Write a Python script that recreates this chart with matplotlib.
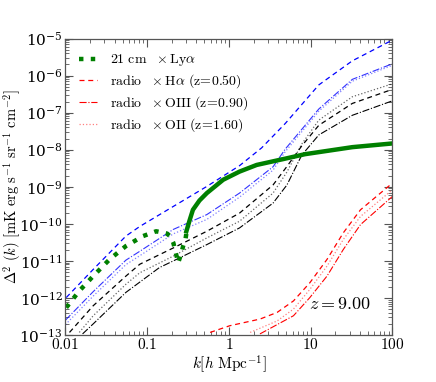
import numpy as np
import matplotlib
matplotlib.use("Agg")
import matplotlib.pyplot as plt
from matplotlib.ticker import LogLocator, FixedLocator, FixedFormatter, NullFormatter

plt.rcParams['font.family'] = 'serif'
plt.rcParams['font.serif'] = ['DejaVu Serif']
plt.rcParams['mathtext.fontset'] = 'cm'

# 21 cm x Lya (log10 k, log10 Delta^2): dotted part and solid part
lyx_neg_lk = [-1.99, -1.83, -1.66, -1.46, -1.26, -1.05, -0.89, -0.76, -0.72, -0.68, -0.66, -0.62, -0.58, -0.56, -0.53, -0.52]
lyx_neg_ld = [-12.26, -11.81, -11.41, -10.96, -10.6, -10.33, -10.2, -10.26, -10.33, -10.51, -10.69, -11.05, -10.78, -10.6, -10.4, -10.25]
lyx_pos_lk = [-0.52, -0.48, -0.44, -0.36, -0.27, -0.07, 0.13, 0.34, 0.71, 0.93, 1.51, 2.0]
lyx_pos_ld = [-10.2, -9.9, -9.62, -9.37, -9.17, -8.81, -8.59, -8.41, -8.23, -8.12, -7.93, -7.83]

# blue group
b_ha_lk = [-1.99, -1.66, -1.26, -1.09, -0.68, -0.27, 0.13, 0.40, 0.69, 1.10, 1.51, 2.0]
b_ha_ld = [-11.99, -11.23, -10.33, -10.07, -9.53, -8.99, -8.43, -7.95, -7.29, -6.25, -5.6, -5.04]
b_o3_lk = [-2.0, -1.66, -1.26, -1.09, -0.68, -0.27, 0.13, 0.54, 0.69, 1.10, 1.51, 2.0]
b_o3_ld = [-12.6, -11.83, -10.98, -10.74, -10.15, -9.75, -9.17, -8.46, -7.98, -6.9, -6.1, -5.68]
b_o2_lk = [-2.0, -1.66, -1.26, -1.09, -0.68, -0.27, 0.13, 0.54, 0.69, 1.10, 1.51, 2.0]
b_o2_ld = [-12.72, -11.95, -11.1, -10.86, -10.27, -9.88, -9.28, -8.55, -8.05, -6.96, -6.15, -5.72]

# black group
k_ha_lk = [-1.95, -1.66, -1.26, -1.09, -0.68, -0.27, 0.13, 0.54, 0.71, 0.89, 1.10, 1.51, 2.0]
k_ha_ld = [-12.93, -12.21, -11.41, -11.09, -10.65, -10.2, -9.71, -8.95, -8.45, -7.9, -7.34, -6.75, -6.37]
k_o2_lk = [-1.83, -1.66, -1.26, -1.09, -0.68, -0.27, 0.13, 0.54, 0.71, 0.89, 1.10, 1.51, 2.0]
k_o2_ld = [-12.93, -12.48, -11.63, -11.32, -10.87, -10.38, -9.93, -9.17, -8.6, -7.85, -7.2, -6.57, -6.22]
k_o3_lk = [-1.79, -1.66, -1.26, -0.85, -0.68, -0.27, 0.13, 0.54, 0.71, 0.89, 1.10, 1.51, 2.0]
k_o3_ld = [-12.97, -12.7, -11.85, -11.18, -11.0, -10.56, -10.11, -9.44, -8.95, -8.15, -7.6, -7.07, -6.68]

# red group
r_ha_lk = [-0.23, 0.01, 0.38, 0.59, 0.79, 0.99, 1.2, 1.4, 1.61, 2.0]
r_ha_ld = [-12.93, -12.75, -12.57, -12.39, -12.08, -11.59, -10.96, -10.24, -9.62, -8.9]
r_o2_lk = [0.26, 0.59, 0.79, 0.99, 1.2, 1.4, 1.61, 2.0]
r_o2_ld = [-12.93, -12.62, -12.3, -11.77, -11.14, -10.42, -9.8, -9.08]
r_o3_lk = [0.38, 0.79, 0.99, 1.2, 1.4, 1.61, 2.0]
r_o3_ld = [-12.97, -12.48, -11.99, -11.41, -10.69, -10.02, -9.26]


def p(lk, ld):
    return 10 ** np.array(lk), 10 ** np.array(ld)


fig = plt.figure(figsize=(4.36, 3.82), dpi=100)
ax = fig.add_axes([0.150, 0.123, 0.750, 0.776])

dash = (0, (4, 3))
ax.plot(*p(b_ha_lk, b_ha_ld), color='blue', ls=dash, lw=0.9)
ax.plot(*p(b_o3_lk, b_o3_ld), color='blue', ls='-.', lw=0.8, alpha=0.8)
ax.plot(*p(b_o2_lk, b_o2_ld), color='blue', ls=':', lw=0.9, alpha=0.5)

ax.plot(*p(k_ha_lk, k_ha_ld), color='black', ls=dash, lw=0.9)
ax.plot(*p(k_o2_lk, k_o2_ld), color='black', ls=':', lw=0.9, alpha=0.6)
ax.plot(*p(k_o3_lk, k_o3_ld), color='black', ls='-.', lw=0.8)

ax.plot(*p(r_ha_lk, r_ha_ld), color='red', ls=dash, lw=0.9)
ax.plot(*p(r_o2_lk, r_o2_ld), color='red', ls=':', lw=0.9, alpha=0.5)
ax.plot(*p(r_o3_lk, r_o3_ld), color='red', ls='-.', lw=0.8)

ax.plot(*p(lyx_neg_lk, lyx_neg_ld), color='green', ls=':', lw=3.2)
ax.plot(*p(lyx_pos_lk, lyx_pos_ld), color='green', ls='-', lw=3.2)

# legend
h1, = ax.plot([], [], color='green', ls=':', lw=3.2, label=r'$\mathrm{21\ cm\ \ \times Ly\alpha}$')
h2, = ax.plot([], [], color='red', ls=dash, lw=0.9, label=r'$\mathrm{radio\ \ \times H\alpha\ (z\!=\!0.50)}$')
h3, = ax.plot([], [], color='red', ls='-.', lw=0.8, label=r'$\mathrm{radio\ \ \times OIII\ (z\!=\!0.90)}$')
h4, = ax.plot([], [], color='red', ls=':', lw=0.9, alpha=0.5, label=r'$\mathrm{radio\ \ \times OII\ (z\!=\!1.60)}$')
ax.legend(handles=[h1, h2, h3, h4], loc='upper left', frameon=False, fontsize=10,
          handlelength=1.3, handletextpad=0.9, labelspacing=0.3, borderaxespad=0.6)

ax.set_xscale('log')
ax.set_yscale('log')
ax.set_xlim(0.01, 100)
ax.set_ylim(1e-13, 1e-5)

ax.xaxis.set_major_locator(FixedLocator([0.01, 0.1, 1, 10, 100]))
ax.xaxis.set_major_formatter(FixedFormatter([r'$0.01$', r'$0.1$', r'$1$', r'$10$', r'$100$']))
ax.xaxis.set_minor_locator(LogLocator(base=10, subs=np.arange(2, 10)))
ax.xaxis.set_minor_formatter(NullFormatter())
ax.yaxis.set_major_locator(LogLocator(base=10, numticks=20))
ax.yaxis.set_minor_locator(LogLocator(base=10, subs=np.arange(2, 10), numticks=20))
ax.yaxis.set_minor_formatter(NullFormatter())

ax.tick_params(which='both', direction='in', top=True, right=True, color='#555555', labelsize=11)
ax.tick_params(axis='y', pad=2)
ax.tick_params(axis='x', pad=1.5)
ax.tick_params(which='major', length=6, width=0.8)
ax.tick_params(which='minor', length=3, width=0.6)
for s in ax.spines.values():
    s.set_color('#555555')
    s.set_linewidth(0.9)

ax.set_xlabel(r'$k[h\ \mathrm{Mpc}^{-1}]$', fontsize=11)
ax.set_ylabel(r'$\Delta^2\ (k)\ [\mathrm{mK\ erg\ s^{-1}\ sr^{-1}\ cm^{-2}}]$', fontsize=10.5)
ax.xaxis.set_label_coords(0.5, -0.062)
ax.yaxis.set_label_coords(-0.128, 0.5)

ax.text(0.84, 0.104, r'$z=9.00$', transform=ax.transAxes, fontsize=13, ha='center', va='center')

fig.savefig('out.png', dpi=100)
